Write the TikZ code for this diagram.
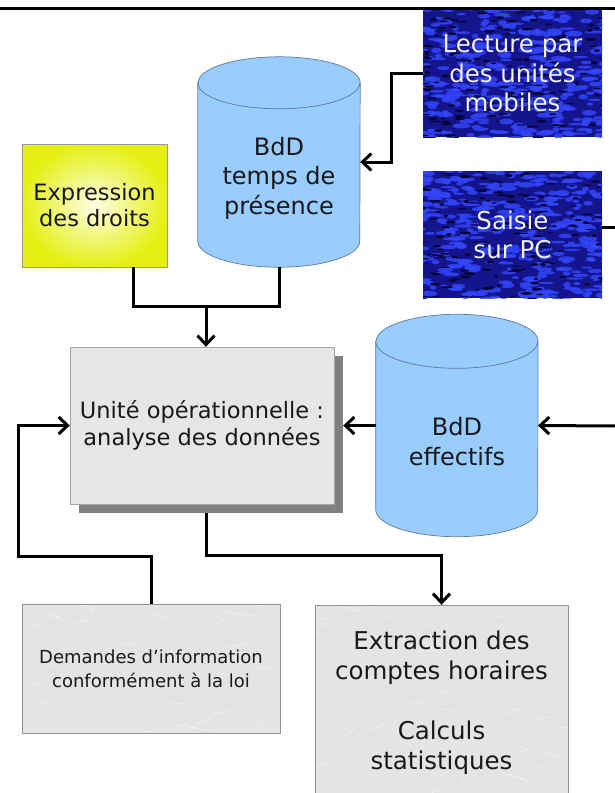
\documentclass[tikz,border=0pt]{standalone}
\usepackage{fontspec}
\setmainfont{DejaVu Sans}
\usetikzlibrary{positioning,arrows.meta,shadows,backgrounds}
\definecolor{nuit}{RGB}{20,20,140}
\definecolor{clair}{RGB}{50,70,250}
\definecolor{sombre}{RGB}{5,5,60}
\definecolor{cuveclair}{RGB}{153,204,255}
\definecolor{cuvebord}{RGB}{95,120,155}
\definecolor{gris}{RGB}{228,228,228}
\definecolor{grisclair}{RGB}{230,230,230}
\definecolor{ombre}{RGB}{128,128,128}
\definecolor{jaune}{RGB}{228,240,20}
\definecolor{jaunepale}{RGB}{255,255,230}
\pgfmathsetseed{42}

\begin{document}
\begin{tikzpicture}[x=1pt,y=-1pt,
    texte/.style={align=center,inner sep=0pt,text=black!90},
    grand/.style={font=\fontsize{24}{29.5}\selectfont},
    bleu/.style={texte,font=\fontsize{24.5}{29.5}\selectfont,text=white!94!black,fill=nuit,
      minimum width=179pt,minimum height=127pt,
      path picture={
        \foreach \k in {1,...,380}
          \fill[clair,opacity=.85] ([shift={({(rnd-.5)*190pt},{(rnd-.5)*140pt})}]path picture bounding box.center)
            ellipse[x radius={(3+6*rnd)*1pt},y radius={(1+2*rnd)*1pt}];
        \foreach \k in {1,...,160}
          \fill[sombre] ([shift={({(rnd-.5)*190pt},{(rnd-.5)*140pt})}]path picture bounding box.center)
            ellipse[x radius={(2+4*rnd)*1pt},y radius={(.6+1*rnd)*1pt}];}},
    marbre/.style={texte,fill=gris,draw=gray!85,
      path picture={
        \foreach \k in {1,...,45}
          \draw[white,opacity=.6,line width=.6pt]
            ([shift={({(rnd-.5)*260pt},{(rnd-.5)*200pt})}]path picture bounding box.center)
            -- ++({(rnd-.5)*50pt},{(rnd-.5)*16pt});}},
    cuve/.style={minimum width=162pt,minimum height=210pt,inner sep=0pt},
    fleche/.style={line width=3pt,-{Straight Barb[length=9pt,width=17pt,line width=3pt]}},
    trait/.style={line width=3pt}]
  \useasboundingbox (0,0) rectangle (615,793);
  \clip (0,0) rectangle (615,793);

  \draw[line width=2.5pt] (0,8.5) -- (615,8.5);

  \node[bleu] (lecture) at (512.5,73.5) {Lecture par\\des unités\\mobiles};
  \node[bleu,below=34pt of lecture] (saisie) {Saisie\\sur PC};
  \node[cuve,label={[texte,grand,yshift=-16pt]center:BdD\\temps de\\présence}] (tdp) at (279,162) {};
  \node[texte,font=\fontsize{22.5}{26}\selectfont,draw=gray!80,inner color=jaunepale,outer color=jaune,
        minimum width=145pt,minimum height=123pt] (droits) at (94.5,205.5) {Expression\\des droits};
  \node[texte,font=\fontsize{22.5}{27}\selectfont,fill=grisclair,draw=gray!70,
        drop shadow={shadow xshift=9pt,shadow yshift=-9pt,fill=ombre,opacity=1},
        minimum width=264pt,minimum height=157pt] (unite) at (202,425.5) {Unité opérationnelle :\\analyse des données};
  \node[cuve,minimum height=222pt,right=41.5pt of unite,
        label={[texte,grand,yshift=-16pt]center:BdD\\effectifs}] (eff) {};
  \node[marbre,font=\fontsize{18}{24}\selectfont,minimum width=258pt,minimum height=129pt]
        (demandes) at (151,668.5) {Demandes d’information\\conformément à la loi};
  \node[marbre,font=\fontsize{24.5}{29.5}\selectfont,minimum width=253pt,minimum height=195pt]
        (extraction) at (441.5,702.5) {Extraction des\\comptes horaires\\[31pt]Calculs\\statistiques};

  \begin{scope}[on background layer]
    \foreach \cu/\ry in {tdp/26,eff/27}{
      \filldraw[fill=cuveclair,draw=cuvebord,line width=.7pt]
        ([yshift=-\ry*1pt]\cu.north west) -- ([yshift=\ry*1pt]\cu.south west)
        arc[start angle=180,end angle=360,x radius=81pt,y radius=\ry*1pt]
        -- ([yshift=-\ry*1pt]\cu.north east)
        arc[start angle=0,end angle=180,x radius=81pt,y radius=\ry*1pt] -- cycle;
      \draw[cuvebord,line width=.7pt] ([yshift=-\ry*1pt]\cu.north west)
        arc[start angle=180,end angle=360,x radius=81pt,y radius=\ry*1pt];
    }
  \end{scope}

  \coordinate (jonction) at (206,306);
  \coordinate (sortie) at (616,227);
  \coordinate (entree) at (616,426);
  \coordinate (bord) at ([xshift=9pt]unite.east);

  \draw[trait] ([xshift=38.5pt]droits.south) |- (jonction) -| (tdp.south);
  \draw[fleche] (jonction) -- (jonction |- unite.north);
  \draw[fleche] (lecture.west) -- ++(-31,0) |- (tdp.east);
  \draw[trait] (saisie.east |- sortie) -- (sortie);
  \draw[fleche] (entree) -- (eff.east);
  \draw[fleche] (eff.west) -- (eff.west -| bord);
  \draw[fleche] (demandes.north) |- (18,556) |- (unite.west);
  \draw[fleche] ([yshift=-9pt]jonction |- unite.south) -- ++(0,42) -| (extraction.north);
\end{tikzpicture}
\end{document}
